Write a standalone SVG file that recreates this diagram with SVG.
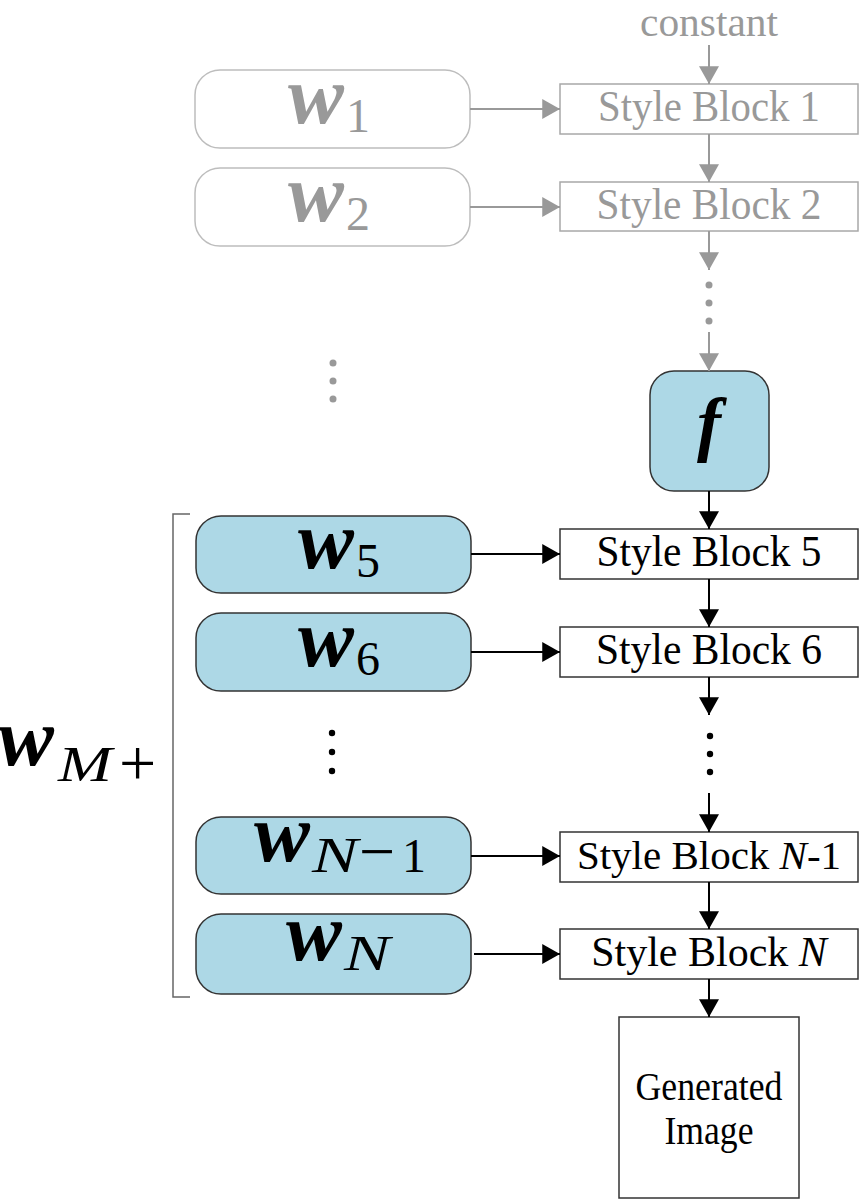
<svg xmlns="http://www.w3.org/2000/svg" width="860" height="1199" viewBox="0 0 860 1199">
<defs>
<style>
.ser{font-family:"Liberation Serif","Times New Roman",serif}
.sb{font-family:"Liberation Serif","Times New Roman",serif;font-size:44px;text-anchor:middle}
.wg{font-family:"Liberation Serif","Times New Roman",serif;font-size:82px;font-weight:bold;font-style:italic}
.sub{font-family:"Liberation Serif","Times New Roman",serif;font-size:48px}
.subi{font-family:"Liberation Serif","Times New Roman",serif;font-size:50px;font-style:italic}
.gtxt{fill:#999999}
.btxt{fill:#000000}
.gbox{fill:#ffffff;stroke:#bdbdbd;stroke-width:1.5}
.gsb{fill:#ffffff;stroke:#a8a8a8;stroke-width:1.5}
.bbox{fill:#add8e6;stroke:#333333;stroke-width:1.5}
.bsb{fill:#ffffff;stroke:#333333;stroke-width:1.5}
.gl{stroke:#999999;stroke-width:2;fill:none}
.bl{stroke:#000000;stroke-width:2;fill:none}
</style>
<marker id="ag" markerUnits="userSpaceOnUse" markerWidth="20" markerHeight="20" viewBox="0 0 16 18" refX="16" refY="9" orient="auto">
<path d="M0,0 L16,9 L0,18 Z" fill="#999999"/>
</marker>
<marker id="ab" markerUnits="userSpaceOnUse" markerWidth="20" markerHeight="20" viewBox="0 0 16 18" refX="16" refY="9" orient="auto">
<path d="M0,0 L16,9 L0,18 Z" fill="#000000"/>
</marker>
</defs>

<g id="constant"><text class="sb gtxt" x="709" y="36" style="font-size:39px" textLength="138" lengthAdjust="spacingAndGlyphs">constant</text></g>

<g id="w1"><rect class="gbox" x="195" y="70" width="275" height="78" rx="25"/>
<text class="wg gtxt" x="288" y="123" textLength="56" lengthAdjust="spacingAndGlyphs">w</text>
<text class="sub gtxt" x="346" y="132">1</text></g>
<g id="w2"><rect class="gbox" x="195" y="168" width="275" height="78" rx="25"/>
<text class="wg gtxt" x="288" y="221" textLength="56" lengthAdjust="spacingAndGlyphs">w</text>
<text class="sub gtxt" x="346" y="230">2</text></g>

<g id="sb1"><rect class="gsb" x="560" y="84" width="298" height="50"/><text class="sb gtxt" x="709" y="121" textLength="222" lengthAdjust="spacingAndGlyphs">Style Block 1</text></g>
<g id="sb2"><rect class="gsb" x="560" y="182" width="298" height="49"/><text class="sb gtxt" x="709" y="219" textLength="225" lengthAdjust="spacingAndGlyphs">Style Block 2</text></g>

<g id="f"><rect class="bbox" x="650" y="371" width="119" height="120" rx="24"/>
<text class="ser btxt" x="709" y="448" font-size="72" font-weight="bold" font-style="italic" text-anchor="middle">f</text></g>

<g id="w5"><rect class="bbox" x="196" y="516" width="275" height="77" rx="25"/>
<text class="wg btxt" x="298" y="568" textLength="56" lengthAdjust="spacingAndGlyphs">w</text>
<text class="sub btxt" x="356" y="577">5</text></g>
<g id="w6"><rect class="bbox" x="196" y="613" width="275" height="78" rx="25"/>
<text class="wg btxt" x="298" y="666" textLength="56" lengthAdjust="spacingAndGlyphs">w</text>
<text class="sub btxt" x="356" y="675">6</text></g>
<g id="wN1"><rect class="bbox" x="196" y="817" width="275" height="77" rx="25"/>
<text class="wg btxt" x="254" y="861" textLength="56" lengthAdjust="spacingAndGlyphs">w</text>
<text class="subi btxt" x="312" y="872" textLength="46" lengthAdjust="spacingAndGlyphs">N</text>
<text class="ser btxt" x="359" y="873" font-size="64">−</text>
<text class="sub btxt" x="402" y="872">1</text></g>
<g id="wN"><rect class="bbox" x="196" y="914" width="275" height="80" rx="25"/>
<text class="wg btxt" x="286" y="960" textLength="56" lengthAdjust="spacingAndGlyphs">w</text>
<text class="subi btxt" x="344" y="970" textLength="46" lengthAdjust="spacingAndGlyphs">N</text></g>

<g id="sb5"><rect class="bsb" x="560" y="529" width="298" height="50"/><text class="sb btxt" x="709" y="566" textLength="225" lengthAdjust="spacingAndGlyphs">Style Block 5</text></g>
<g id="sb6"><rect class="bsb" x="560" y="627" width="298" height="50"/><text class="sb btxt" x="709" y="664" textLength="226" lengthAdjust="spacingAndGlyphs">Style Block 6</text></g>
<g id="sbN1"><rect class="bsb" x="560" y="832" width="298" height="50"/><text class="sb btxt" x="709" y="869" style="font-size:41px">Style Block <tspan font-style="italic">N</tspan>-1</text></g>
<g id="sbN"><rect class="bsb" x="560" y="929" width="298" height="50"/><text class="sb btxt" x="709" y="966" style="font-size:42px">Style Block <tspan font-style="italic">N</tspan></text></g>

<g id="gen"><rect class="bsb" x="619" y="1017" width="180" height="181" stroke="#555555"/>
<text class="ser btxt" x="709" y="1100" font-size="39" text-anchor="middle" textLength="147" lengthAdjust="spacingAndGlyphs">Generated</text>
<text class="ser btxt" x="709" y="1144" font-size="39" text-anchor="middle" textLength="89" lengthAdjust="spacingAndGlyphs">Image</text></g>

<g id="wM"><text class="wg btxt" x="-2" y="765" textLength="56" lengthAdjust="spacingAndGlyphs">w</text>
<text class="subi btxt" x="58" y="781" textLength="54" lengthAdjust="spacingAndGlyphs">M</text>
<text class="ser btxt" x="119" y="785" font-size="66">+</text>
<path d="M190,514 H173 V997 H190" fill="none" stroke="#666666" stroke-width="1.5"/></g>

<g id="dots">
<circle cx="709" cy="285" r="3.5" fill="#999999"/><circle cx="709" cy="303" r="3.5" fill="#999999"/><circle cx="709" cy="321" r="3.5" fill="#999999"/>
<circle cx="333" cy="363" r="3.5" fill="#999999"/><circle cx="333" cy="381" r="3.5" fill="#999999"/><circle cx="333" cy="399" r="3.5" fill="#999999"/>
<circle cx="332" cy="733" r="3.2" fill="#000000"/><circle cx="332" cy="752" r="3.2" fill="#000000"/><circle cx="332" cy="771" r="3.2" fill="#000000"/>
<circle cx="710" cy="736" r="3.2" fill="#000000"/><circle cx="710" cy="754" r="3.2" fill="#000000"/><circle cx="710" cy="772" r="3.2" fill="#000000"/>
</g>

<g id="connectors">
<line class="gl" x1="709" y1="45" x2="709" y2="84" marker-end="url(#ag)"/>
<line class="gl" x1="709" y1="134" x2="709" y2="182" marker-end="url(#ag)"/>
<line class="gl" x1="709" y1="231" x2="709" y2="270" marker-end="url(#ag)"/>
<line class="gl" x1="709" y1="332" x2="709" y2="371" marker-end="url(#ag)"/>
<line class="gl" x1="470" y1="109" x2="560" y2="109" marker-end="url(#ag)"/>
<line class="gl" x1="470" y1="207" x2="560" y2="207" marker-end="url(#ag)"/>
<line class="bl" x1="709" y1="491" x2="709" y2="529" marker-end="url(#ab)"/>
<line class="bl" x1="709" y1="579" x2="709" y2="627" marker-end="url(#ab)"/>
<line class="bl" x1="709" y1="677" x2="709" y2="715" marker-end="url(#ab)"/>
<line class="bl" x1="709" y1="793" x2="709" y2="832" marker-end="url(#ab)"/>
<line class="bl" x1="709" y1="882" x2="709" y2="929" marker-end="url(#ab)"/>
<line class="bl" x1="709" y1="979" x2="709" y2="1017" marker-end="url(#ab)"/>
<line class="bl" x1="471" y1="554" x2="560" y2="554" marker-end="url(#ab)"/>
<line class="bl" x1="471" y1="652" x2="560" y2="652" marker-end="url(#ab)"/>
<line class="bl" x1="471" y1="856" x2="560" y2="856" marker-end="url(#ab)"/>
<line class="bl" x1="474" y1="954" x2="560" y2="954" marker-end="url(#ab)"/>
</g>
</svg>
